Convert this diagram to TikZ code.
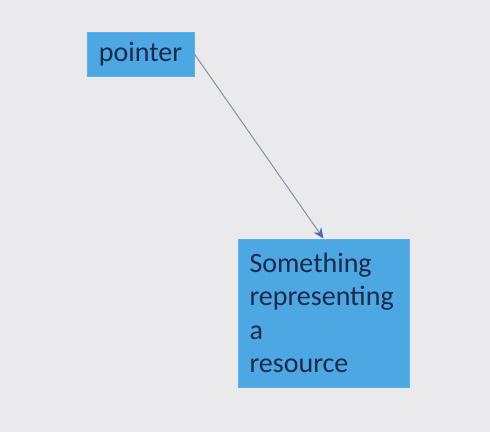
\documentclass[tikz,border=0pt]{standalone}
\usepackage{fontspec}
\setmainfont{Carlito}
\usetikzlibrary{arrows.meta}
\definecolor{bg}{HTML}{EAE9EB}
\definecolor{boxfill}{HTML}{4CA7E2}
\definecolor{boxline}{HTML}{5BB0E8}
\definecolor{txt}{HTML}{1C2A4C}
\definecolor{arrowline}{HTML}{8A95AA}
\definecolor{arrowhead}{HTML}{4A6BB0}
\tikzset{
  box/.style={fill=boxfill, draw=boxline, line width=0.6pt, inner sep=0pt,
    text=txt, font=\fontsize{21}{25}\selectfont},
  link/.style={draw=arrowline, line width=0.8pt,
    -{Stealth[length=8pt,width=7pt,color=arrowhead]}}
}
\begin{document}
\begin{tikzpicture}[x=0.75pt,y=-0.75pt]
\fill[bg] (0,0) rectangle (490,432);
\useasboundingbox (0,0) rectangle (490,432);
\node[box, minimum width=80.25pt, minimum height=33pt] (pointer) at (140.5,54) {pointer};
\node[box, minimum width=128.25pt, minimum height=111pt, text width=111pt, align=left] (res) at (323.5,313) {Something\\representing\\a\\resource};
\draw[link] (pointer.east) -- (res.north);
\end{tikzpicture}
\end{document}
